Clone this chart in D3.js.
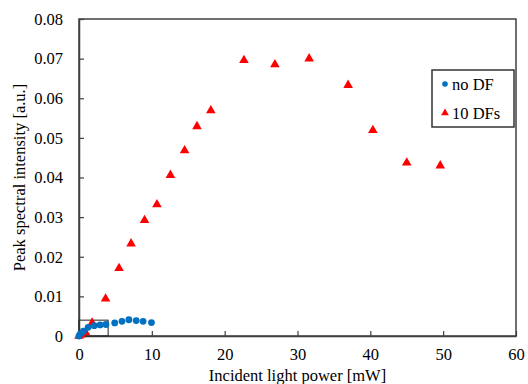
<!DOCTYPE html>
<html>
<head>
<meta charset="utf-8">
<script src="https://cdn.jsdelivr.net/npm/d3@7"></script>
<style>
  body { margin: 0; background: #fff; }
  #chart { width: 528px; height: 384px; }
  svg text { font-family: 'Liberation Serif', 'Times New Roman', Times, 'DejaVu Serif', serif; fill: #000; }
</style>
</head>
<body>
<div id="chart"></div>
<script>
// data
const noDfPower = [0, 0.2, 0.6, 1.25, 2.1, 2.9, 3.7, 4.9, 5.9, 6.85, 7.85, 8.8, 9.95];
const noDfPeak = [0, 0.0006, 0.0012, 0.0022, 0.0026, 0.0028, 0.0029, 0.0033, 0.0037, 0.0041, 0.0039, 0.0037, 0.0034];

const tenDfPower = [0, 0.3, 0.9, 1.8, 3.65, 5.5, 7.15, 9.0, 10.7, 12.55, 14.5, 16.2, 18.1, 22.65, 26.9, 31.6, 36.95, 40.35, 45.0, 49.6];
const tenDfPeak = [0, 0.0003, 0.0009, 0.0033, 0.0094, 0.0171, 0.0233, 0.0292, 0.0332, 0.0406, 0.0468, 0.0529, 0.0569, 0.0696, 0.0685, 0.0700, 0.0633, 0.0519, 0.0437, 0.0430];

const xTicks = [0, 10, 20, 30, 40, 50, 60];
const yTicks = [0, 0.01, 0.02, 0.03, 0.04, 0.05, 0.06, 0.07, 0.08];
const seriesNames = ['no DF', '10 DFs'];
const zoomBox = { x: [0, 4], y: [0, 0.004] };

(function () {
   const width = 528;
   const height = 384;
   const margin = { top: 19, right: 12, bottom: 48, left: 79 };
   const font = "'Liberation Serif', 'Times New Roman', Times, 'DejaVu Serif', serif";

   const svg = d3.select('#chart')
      .append('svg')
      .attr('width', width)
      .attr('height', height)
      .style('font-family', font);

   const x = d3.scaleLinear().domain([0, 60]).range([margin.left, width - margin.right]);
   const y = d3.scaleLinear().domain([0, 0.08]).range([height - margin.bottom, margin.top]);

   const axisColor = '#3f3f3f';

   // plot frame
   svg.append('rect')
      .attr('x', x(0))
      .attr('y', y(0.08))
      .attr('width', x(60) - x(0))
      .attr('height', y(0) - y(0.08))
      .attr('fill', 'none')
      .attr('stroke', axisColor)
      .attr('stroke-width', 1.5);

   // x axis, ticks pointing inward
   const xAxis = svg.append('g')
      .attr('transform', `translate(0,${y(0)})`)
      .call(d3.axisBottom(x).tickValues(xTicks).tickSizeInner(-5).tickSizeOuter(0).tickPadding(12))
      .attr('font-family', null);
   xAxis.select('.domain').attr('stroke', axisColor).attr('stroke-width', 1.5);
   xAxis.selectAll('.tick line').attr('stroke', axisColor).attr('stroke-width', 1.2);
   xAxis.selectAll('.tick text').attr('font-size', 16.5).style('font-family', font).attr('fill', '#000');

   // y axis, ticks pointing inward
   const yAxis = svg.append('g')
      .attr('transform', `translate(${x(0)},0)`)
      .call(d3.axisLeft(y).tickValues(yTicks).tickFormat(d => d === 0 ? '0' : d3.format('.2f')(d))
         .tickSizeInner(-5).tickSizeOuter(0).tickPadding(16))
      .attr('font-family', null);
   yAxis.select('.domain').attr('stroke', axisColor).attr('stroke-width', 1.5);
   yAxis.selectAll('.tick line').attr('stroke', axisColor).attr('stroke-width', 1.2);
   yAxis.selectAll('.tick text').attr('font-size', 16.5).style('font-family', font).attr('fill', '#000');

   // small box around the low-power region
   svg.append('rect')
      .attr('x', x(zoomBox.x[0]))
      .attr('y', y(zoomBox.y[1]))
      .attr('width', x(zoomBox.x[1]) - x(zoomBox.x[0]))
      .attr('height', y(zoomBox.y[0]) - y(zoomBox.y[1]))
      .attr('fill', 'none')
      .attr('stroke', '#222')
      .attr('stroke-width', 1);

   const blue = '#0070c0';
   const red = '#ff0000';
   const tri = d3.symbol().type(d3.symbolTriangle);

   // 10 DFs (triangles)
   svg.append('g')
      .selectAll('path')
      .data(tenDfPower.map((p, i) => [p, tenDfPeak[i]]))
      .join('path')
      .attr('d', tri.size(40)())
      .attr('transform', d => `translate(${x(d[0])},${y(d[1])})`)
      .attr('fill', red);

   // no DF (circles)
   svg.append('g')
      .selectAll('circle')
      .data(noDfPower.map((p, i) => [p, noDfPeak[i]]))
      .join('circle')
      .attr('cx', d => x(d[0]))
      .attr('cy', d => y(d[1]))
      .attr('r', 3.4)
      .attr('fill', blue);

   // axis titles
   svg.append('text')
      .attr('x', (x(0) + x(60)) / 2)
      .attr('y', 381)
      .attr('text-anchor', 'middle')
      .attr('font-size', 16.5)
      .text('Incident light power [mW]');

   svg.append('text')
      .attr('transform', `translate(25,${(y(0) + y(0.08)) / 2}) rotate(-90)`)
      .attr('text-anchor', 'middle')
      .attr('font-size', 16.5)
      .text('Peak spectral intensity [a.u.]');

   // legend
   const legend = svg.append('g').attr('transform', 'translate(432,70)');
   legend.append('rect')
      .attr('width', 82)
      .attr('height', 57)
      .attr('fill', '#fff')
      .attr('stroke', '#333')
      .attr('stroke-width', 1.5);

   legend.append('circle').attr('cx', 13).attr('cy', 14).attr('r', 2.8).attr('fill', blue);
   legend.append('path').attr('d', tri.size(26)()).attr('transform', 'translate(13,43)').attr('fill', red);

   legend.selectAll('text')
      .data(seriesNames)
      .join('text')
      .attr('x', 20)
      .attr('y', (d, i) => 20 + i * 29)
      .attr('font-size', 16.5)
      .text(d => d);
})();
</script>
</body>
</html>
